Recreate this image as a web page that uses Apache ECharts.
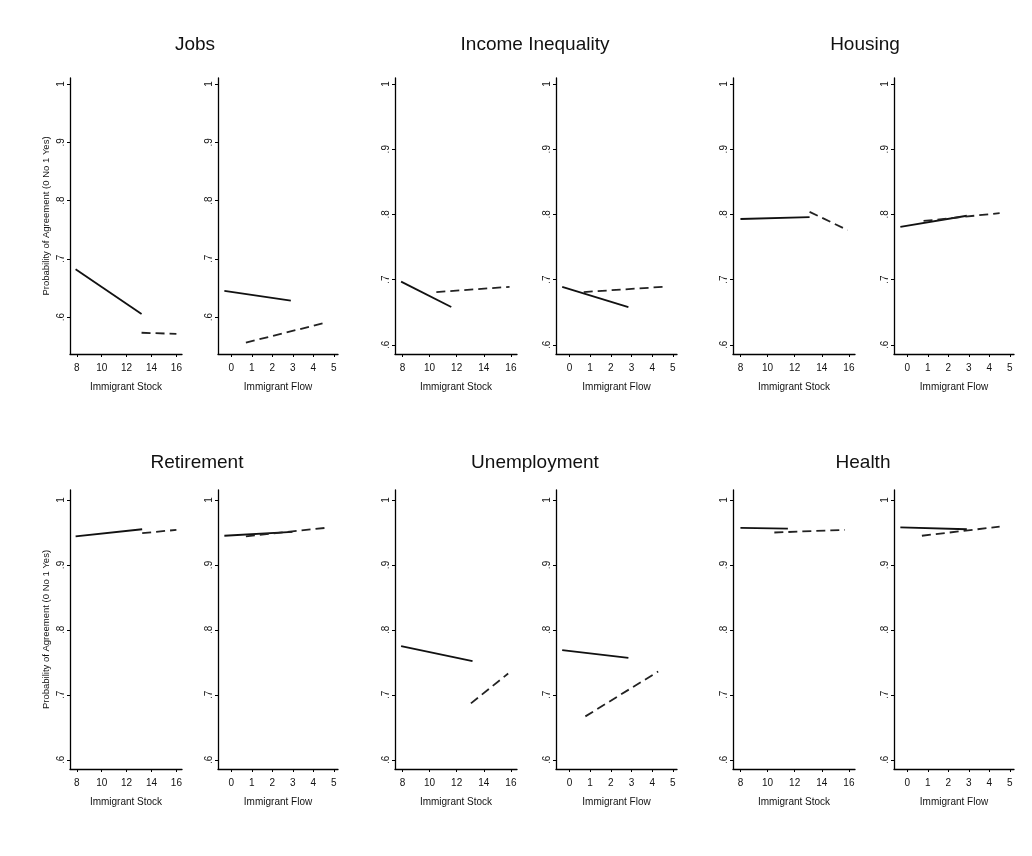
<!DOCTYPE html>
<html>
<head>
<meta charset="utf-8">
<script src="https://cdn.jsdelivr.net/npm/echarts@6/dist/echarts.min.js"></script>
<style>
html,body{margin:0;padding:0;background:#fff;}
#chart{width:1032px;height:856px;}
</style>
</head>
<body>
<div id="chart"></div>
<script>
// ---- data ----
const groupTitles = ['Jobs', 'Income Inequality', 'Housing', 'Retirement', 'Unemployment', 'Health'];
const stockTicks = [8, 10, 12, 14, 16];
const flowTicks = [0, 1, 2, 3, 4, 5];
const yTicks = [0.6, 0.7, 0.8, 0.9, 1];
const yAxisTitle = 'Probability of Agreement (0 No 1 Yes)';
const stockName = 'Immigrant Stock';
const flowName = 'Immigrant Flow';

const jobsStockSolid = [[7.9, 0.682], [13.2, 0.605]];
const jobsStockDashed = [[13.2, 0.573], [16.0, 0.571]];
const jobsFlowSolid = [[-0.34, 0.645], [2.9, 0.628]];
const jobsFlowDashed = [[0.71, 0.556], [4.56, 0.590]];

const incomeStockSolid = [[7.9, 0.697], [11.6, 0.658]];
const incomeStockDashed = [[10.5, 0.681], [15.9, 0.689]];
const incomeFlowSolid = [[-0.35, 0.689], [2.85, 0.658]];
const incomeFlowDashed = [[0.69, 0.681], [4.53, 0.689]];

const housingStockSolid = [[8.0, 0.793], [13.1, 0.796]];
const housingStockDashed = [[13.1, 0.804], [15.9, 0.776]];
const housingFlowSolid = [[-0.34, 0.781], [2.9, 0.798]];
const housingFlowDashed = [[0.79, 0.790], [4.5, 0.802]];

const retirementStockSolid = [[7.9, 0.944], [13.25, 0.955]];
const retirementStockDashed = [[13.25, 0.949], [16.0, 0.954]];
const retirementFlowSolid = [[-0.34, 0.945], [2.98, 0.951]];
const retirementFlowDashed = [[0.71, 0.944], [4.56, 0.957]];

const unempStockSolid = [[7.9, 0.775], [13.17, 0.752]];
const unempStockDashed = [[13.05, 0.687], [15.8, 0.733]];
const unempFlowSolid = [[-0.35, 0.769], [2.85, 0.757]];
const unempFlowDashed = [[0.77, 0.667], [4.29, 0.736]];

const healthStockSolid = [[8.0, 0.957], [11.5, 0.956]];
const healthStockDashed = [[10.5, 0.950], [15.7, 0.954]];
const healthFlowSolid = [[-0.34, 0.958], [2.9, 0.955]];
const healthFlowDashed = [[0.71, 0.945], [4.5, 0.959]];

// ---- layout ----
const colX = [[70, 182], [218, 338], [395, 517], [556, 677], [733, 855], [894, 1014]];
const rowY = [[78, 354], [490, 769]];
const titleCenters = [[190, 30], [530, 30], [860, 30], [192, 448], [530, 448], [858, 448]];
const panelYRange = [
  [0.5365, 1.0103], [0.5365, 1.0103], [0.586, 1.0092], [0.586, 1.0092], [0.586, 1.0092], [0.586, 1.0092],
  [0.586, 1.0154], [0.586, 1.0154], [0.586, 1.0154], [0.586, 1.0154], [0.586, 1.0154], [0.586, 1.0154]
];
const panels = [
  [jobsStockSolid, jobsStockDashed], [jobsFlowSolid, jobsFlowDashed],
  [incomeStockSolid, incomeStockDashed], [incomeFlowSolid, incomeFlowDashed],
  [housingStockSolid, housingStockDashed], [housingFlowSolid, housingFlowDashed],
  [retirementStockSolid, retirementStockDashed], [retirementFlowSolid, retirementFlowDashed],
  [unempStockSolid, unempStockDashed], [unempFlowSolid, unempFlowDashed],
  [healthStockSolid, healthStockDashed], [healthFlowSolid, healthFlowDashed]
];

const FONT = '"Liberation Sans", Arial, sans-serif';
const grid = [], xAxis = [], yAxis = [], series = [], title = [];

groupTitles.forEach((t, i) => {
  title.push({
    text: t, left: titleCenters[i][0], top: titleCenters[i][1], textAlign: 'center',
    textStyle: { fontFamily: FONT, fontSize: 19, fontWeight: 'normal', color: '#111' }
  });
});

panels.forEach((p, i) => {
  const row = Math.floor(i / 6), col = i % 6;
  const isStock = col % 2 === 0;
  const [x0, x1] = colX[col];
  const [y0, y1] = rowY[row];
  grid.push({ left: x0, top: y0, width: x1 - x0, height: y1 - y0, containLabel: false, outerBoundsMode: 'none' });
  const ticks = isStock ? stockTicks : flowTicks;
  xAxis.push({
    type: 'value', gridIndex: i,
    min: isStock ? 7.45 : -0.65, max: isStock ? 16.45 : 5.2,
    name: isStock ? stockName : flowName, nameLocation: 'middle', nameGap: 28,
    nameTextStyle: { fontFamily: FONT, fontSize: 10, color: '#111' },
    splitLine: { show: false },
    axisLine: { show: true, onZero: false, lineStyle: { color: '#000', width: 1.3 } },
    axisTick: { show: true, inside: false, length: 3, customValues: ticks, lineStyle: { color: '#000' } },
    axisLabel: { customValues: ticks, margin: 9, fontFamily: FONT, fontSize: 10, color: '#111' }
  });
  yAxis.push({
    type: 'value', gridIndex: i,
    min: panelYRange[i][0], max: panelYRange[i][1],
    name: col === 0 ? yAxisTitle : '', nameLocation: 'middle', nameGap: 19,
    nameTextStyle: { fontFamily: FONT, fontSize: 9.5, color: '#111' },
    splitLine: { show: false },
    axisLine: { show: true, onZero: false, lineStyle: { color: '#000', width: 1.3 } },
    axisTick: { show: true, inside: false, length: 3, customValues: yTicks, lineStyle: { color: '#000' } },
    axisLabel: {
      customValues: yTicks, rotate: 90, margin: 4, fontFamily: FONT, fontSize: 10, color: '#111',
      formatter: v => Math.abs(v - 1) < 1e-9 ? '1' : '.' + Math.round(v * 10)
    }
  });
  series.push({
    type: 'line', xAxisIndex: i, yAxisIndex: i, data: p[0], showSymbol: false, silent: true,
    lineStyle: { color: '#111', width: 1.8, type: 'solid' }
  });
  series.push({
    type: 'line', xAxisIndex: i, yAxisIndex: i, data: p[1], showSymbol: false, silent: true,
    lineStyle: { color: '#222', width: 1.8, type: [9, 5] }
  });
});

const chart = echarts.init(document.getElementById('chart'), null, { renderer: 'canvas' });
chart.setOption({
  backgroundColor: '#fff', animation: false,
  title, grid, xAxis, yAxis, series
});
</script>
</body>
</html>
